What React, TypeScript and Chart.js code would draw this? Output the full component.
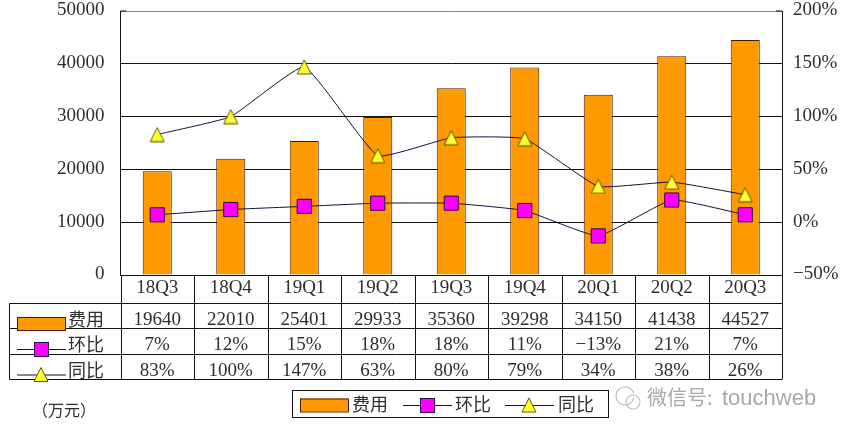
import React, { useEffect, useRef } from "react";
import { Chart, registerables } from "chart.js";

Chart.register(...registerables);

const categories = ["18Q3", "18Q4", "19Q1", "19Q2", "19Q3", "19Q4", "20Q1", "20Q2", "20Q3"];
const costValues = [19640, 22010, 25401, 29933, 35360, 39298, 34150, 41438, 44527];
const qoqValues = [7, 12, 15, 18, 18, 11, -13, 21, 7];
const yoyValues = [83, 100, 147, 63, 80, 79, 34, 38, 26];
const seriesNames = ["费用", "环比", "同比"];
const unitLabel = "（万元）";

const SERIF = '"Liberation Serif", "Noto Sans CJK SC", serif';
const CJK = '"Noto Sans CJK SC", "Liberation Serif", serif';
const INK = "#2e2e2e";
const LINE = "#10103a";
const ORANGE = "#FF9900";
const MAGENTA = "#FF00FF";
const YELLOW = "#FFFF33";
const BAR_EDGE = "#4a1a00";

function drawMarker(ctx: CanvasRenderingContext2D, kind: number, cx: number, y: number) {
  if (kind === 1) {
    ctx.fillStyle = MAGENTA;
    ctx.fillRect(cx - 7, y - 7, 14, 14);
    ctx.strokeStyle = "#2a0a50";
    ctx.strokeRect(cx - 6.5, y - 6.5, 14, 14);
  } else {
    ctx.fillStyle = YELLOW;
    ctx.beginPath();
    ctx.moveTo(cx, y - 7);
    ctx.lineTo(cx + 7, y + 7);
    ctx.lineTo(cx - 7, y + 7);
    ctx.closePath();
    ctx.fill();
    ctx.strokeStyle = "#5a5a00";
    ctx.stroke();
  }
}

function makeTriangleStyle() {
  const c = document.createElement("canvas");
  c.width = 16;
  c.height = 16;
  const g = c.getContext("2d") as CanvasRenderingContext2D;
  g.lineWidth = 1;
  drawMarker(g, 2, 8, 8);
  return c;
}

function drawSwatch(ctx: CanvasRenderingContext2D, kind: number, x: number, y: number) {
  ctx.save();
  ctx.lineWidth = 1;
  if (kind === 0) {
    ctx.fillStyle = ORANGE;
    ctx.fillRect(x, y - 6.5, 48, 13);
    ctx.strokeStyle = BAR_EDGE;
    ctx.strokeRect(x + 0.5, y - 6, 48, 13);
  } else {
    ctx.strokeStyle = LINE;
    ctx.beginPath();
    ctx.moveTo(x, y + 0.5);
    ctx.lineTo(x + 49, y + 0.5);
    ctx.stroke();
    drawMarker(ctx, kind, x + 24, y);
  }
  ctx.restore();
}

const tablePlugin = {
  id: "dataTable",
  afterDraw(chart: any) {
    const ctx: CanvasRenderingContext2D = chart.ctx;
    const { left, right, top, bottom } = chart.chartArea;
    const step = (right - left) / categories.length;
    const rows = [bottom, 303.5, 328.5, 354.5, 379.5];
    const tableLeft = 9.5;
    ctx.save();
    ctx.strokeStyle = "#111";
    ctx.lineWidth = 1;
    ctx.beginPath();
    rows.forEach((y, i) => {
      if (i > 0) {
        ctx.moveTo(tableLeft, y);
        ctx.lineTo(right, y);
      }
    });
    ctx.moveTo(tableLeft, rows[1]);
    ctx.lineTo(tableLeft, rows[4]);
    for (let i = 0; i <= categories.length; i++) {
      const x = Math.round(left + step * i) + 0.5;
      ctx.moveTo(x, rows[0]);
      ctx.lineTo(x, rows[4]);
    }
    // short axis ticks at the top corners
    ctx.moveTo(left, top);
    ctx.lineTo(left + 6, top);
    ctx.moveTo(right - 6, top);
    ctx.lineTo(right, top);
    ctx.stroke();

    const tableRows = [
      costValues.map(String),
      qoqValues.map((v) => (v < 0 ? "−" + Math.abs(v) : v) + "%"),
      yoyValues.map((v) => v + "%"),
    ];
    ctx.textBaseline = "middle";
    tableRows.forEach((row, r) => {
      const cy = (rows[r + 1] + rows[r + 2]) / 2 + 3;
      drawSwatch(ctx, r, 17, cy + 4.5);
      ctx.font = "18px " + CJK;
      ctx.textAlign = "left";
      ctx.fillStyle = INK;
      ctx.fillText(seriesNames[r], 68, cy);
      ctx.font = "19px " + SERIF;
      ctx.textAlign = "center";
      row.forEach((label, i) => {
        ctx.fillText(label, left + step * (i + 0.5), cy + 1);
      });
    });

    // legend
    ctx.strokeStyle = "#111";
    ctx.strokeRect(292.5, 390.5, 316, 27);
    ctx.font = "18px " + CJK;
    ctx.textAlign = "left";
    const swatchX = [300, 403, 505];
    const textX = [352, 455, 558];
    seriesNames.forEach((name, i) => {
      drawSwatch(ctx, i, swatchX[i], 405);
      ctx.fillStyle = INK;
      ctx.fillText(name, textX[i], 404);
    });

    // unit
    ctx.font = "16px " + CJK;
    ctx.fillStyle = INK;
    ctx.fillText(unitLabel, 32, 410);

    // watermark
    ctx.fillStyle = "#a8a8a8";
    ctx.font = "20px " + CJK;
    ctx.fillText("微信号:", 647, 397);
    ctx.font = '22px "Liberation Sans", sans-serif';
    ctx.fillText("touchweb", 722, 399);
    ctx.strokeStyle = "#bdbdbd";
    ctx.lineWidth = 1.2;
    ctx.beginPath();
    ctx.arc(625, 396, 9, 0.2, Math.PI * 1.9);
    ctx.stroke();
    ctx.beginPath();
    ctx.arc(633, 402, 7, 0, Math.PI * 2);
    ctx.stroke();
    ctx.restore();
  },
};

export default function App() {
  const ref = useRef<HTMLCanvasElement>(null);
  useEffect(() => {
    document.body.style.margin = "0";
    const chart = new Chart(ref.current as HTMLCanvasElement, {
      type: "bar",
      data: {
        labels: categories,
        datasets: [
          {
            type: "line",
            label: seriesNames[1],
            data: qoqValues,
            yAxisID: "pct",
            borderColor: LINE,
            borderWidth: 1,
            tension: 0.12,
            pointStyle: "rect",
            pointRadius: 10,
            pointBackgroundColor: MAGENTA,
            pointBorderColor: "#2a0a50",
            pointBorderWidth: 1,
            order: 1,
          },
          {
            type: "line",
            label: seriesNames[2],
            data: yoyValues,
            yAxisID: "pct",
            borderColor: LINE,
            borderWidth: 1,
            tension: 0.12,
            pointStyle: makeTriangleStyle(),
            pointRadius: 8,
            order: 0,
          },
          {
            type: "bar",
            label: seriesNames[0],
            data: costValues,
            yAxisID: "cost",
            backgroundColor: ORANGE,
            borderColor: BAR_EDGE,
            borderWidth: 1,
            categoryPercentage: 1,
            barPercentage: 0.395,
            order: 2,
          },
        ],
      },
      options: {
        responsive: false,
        animation: false,
        layout: { padding: { left: 0, right: 0, top: 11, bottom: 133 } },
        plugins: { legend: { display: false }, tooltip: { enabled: false } },
        scales: {
          x: {
            afterFit(axis: any) {
              axis.height = 28;
              axis.paddingLeft = 0;
              axis.paddingRight = 0;
            },
            grid: { display: false, drawTicks: false },
            border: { color: "#111" },
            ticks: {
              color: INK,
              font: { family: SERIF, size: 19 },
              padding: 2,
              maxRotation: 0,
            },
          },
          cost: {
            position: "left",
            min: 0,
            max: 50000,
            afterFit(axis: any) {
              axis.width = 120.5;
              axis.paddingTop = 0;
              axis.paddingBottom = 0;
            },
            grid: {
              color: (c: any) => (c.tick && c.tick.value === 50000 ? "#8a8a8a" : "#111"),
              lineWidth: 1,
              drawTicks: false,
            },
            border: { color: "#111" },
            ticks: {
              stepSize: 10000,
              color: INK,
              font: { family: SERIF, size: 19, lineHeight: 1 },
              padding: 16,
              labelOffset: -0.5,
              callback: (v: any) => String(v),
            },
          },
          pct: {
            position: "right",
            min: -50,
            max: 200,
            afterFit(axis: any) {
              axis.width = 65;
              axis.paddingTop = 0;
              axis.paddingBottom = 0;
            },
            grid: { display: false, drawTicks: false },
            border: { color: "#111" },
            ticks: {
              stepSize: 50,
              color: INK,
              font: { family: SERIF, size: 19, lineHeight: 1 },
              padding: 11,
              labelOffset: -0.5,
              callback: (v: any) => (Number(v) < 0 ? "−" + Math.abs(Number(v)) : v) + "%",
            },
          },
        },
      },
      plugins: [tablePlugin],
    } as any);
    return () => chart.destroy();
  }, []);
  return <canvas ref={ref} width={847} height={436} style={{ display: "block" }} />;
}
